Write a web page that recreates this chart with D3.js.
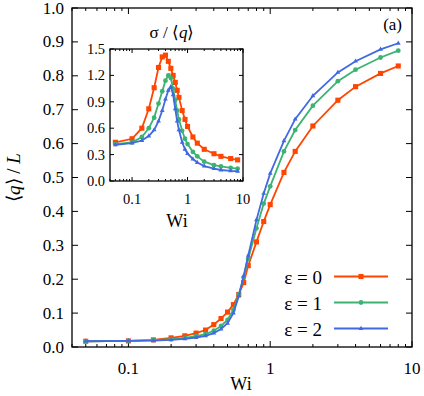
<!DOCTYPE html>
<html>
<head>
<meta charset="utf-8">
<script src="https://cdn.jsdelivr.net/npm/d3@7"></script>
<style>
  body { margin: 0; background: #fff; }
  svg text { font-family: "Liberation Serif", "Times New Roman", serif; fill: #000; }
</style>
</head>
<body>
<div id="chart"></div>
<script>
// Wi values shared by all curves
const wi = [0.05, 0.1, 0.15, 0.2, 0.25, 0.3, 0.35, 0.4, 0.45, 0.5, 0.55, 0.6, 0.65, 0.7, 0.8, 0.9, 1, 1.25, 1.5, 2, 3, 4, 6, 8];

// main panel: <q>/L
const q0 = [0.017, 0.018, 0.021, 0.027, 0.033, 0.041, 0.05, 0.066, 0.084, 0.103, 0.125, 0.155, 0.19, 0.24, 0.31, 0.37, 0.42, 0.515, 0.577, 0.652, 0.728, 0.768, 0.807, 0.829];
const q1 = [0.017, 0.018, 0.02, 0.023, 0.027, 0.032, 0.038, 0.048, 0.062, 0.08, 0.11, 0.155, 0.205, 0.26, 0.35, 0.423, 0.474, 0.577, 0.64, 0.712, 0.784, 0.818, 0.854, 0.874];
const q2 = [0.017, 0.018, 0.019, 0.021, 0.024, 0.028, 0.033, 0.041, 0.053, 0.07, 0.1, 0.15, 0.21, 0.27, 0.375, 0.453, 0.512, 0.608, 0.672, 0.741, 0.81, 0.843, 0.878, 0.896];

// inset: sigma/<q>
const s0 = [0.44, 0.48, 0.6, 0.82, 1.06, 1.29, 1.41, 1.43, 1.36, 1.28, 1.2, 1.12, 1.03, 0.95, 0.8, 0.7, 0.62, 0.5, 0.43, 0.36, 0.31, 0.28, 0.255, 0.24];
const s1 = [0.42, 0.44, 0.5, 0.6, 0.72, 0.88, 1.02, 1.14, 1.2, 1.17, 1.05, 0.92, 0.8, 0.7, 0.57, 0.48, 0.42, 0.33, 0.28, 0.22, 0.18, 0.165, 0.15, 0.14];
const s2 = [0.41, 0.43, 0.46, 0.51, 0.58, 0.68, 0.8, 0.93, 1.03, 1.07, 0.98, 0.82, 0.68, 0.58, 0.44, 0.36, 0.31, 0.25, 0.21, 0.17, 0.14, 0.125, 0.115, 0.11];

const legendLabels = ["ε = 0", "ε = 1", "ε = 2"];
const colors = ["#ff4500", "#3cb371", "#4169e1"];
const symbols = [d3.symbolSquare, d3.symbolCircle, d3.symbolTriangle];
const symSizes = [26, 18, 10];
const mainYTicks = d3.range(0, 1.01, 0.1);
const insetYTicks = [0, 0.3, 0.6, 0.9, 1.2, 1.5];

const W = 424, H = 396;
const svg = d3.select("#chart").append("svg").attr("width", W).attr("height", H);

// minor ticks for a log axis
function logTicks(lo, hi) {
  let t = [];
  for (let e = -2; e <= 1; e++) {
    for (let m = 1; m < 10; m++) {
      let v = m * Math.pow(10, e);
      if (v >= lo * 0.999 && v <= hi * 1.001) t.push(v);
    }
  }
  return t;
}

// o: fs font size, tl tick length, yOff/yDx label offsets, xOff baseline below axis
function panel(g, x, y, yTicks, o, series) {
  const [x0, x1] = x.range(), [y0, y1] = y.range();
  const minor = logTicks(x.domain()[0], x.domain()[1]);
  const major = [0.1, 1, 10];

  minor.forEach(v => {
    let len = major.includes(+v.toPrecision(3)) ? o.tl : o.tl * 0.5;
    g.append("line").attr("x1", x(v)).attr("x2", x(v)).attr("y1", y0).attr("y2", y0 - len).attr("stroke", "#000");
    g.append("line").attr("x1", x(v)).attr("x2", x(v)).attr("y1", y1).attr("y2", y1 + len).attr("stroke", "#000");
  });
  yTicks.forEach(v => {
    g.append("line").attr("x1", x0).attr("x2", x0 + o.tl).attr("y1", y(v)).attr("y2", y(v)).attr("stroke", "#000");
    g.append("line").attr("x1", x1).attr("x2", x1 - o.tl).attr("y1", y(v)).attr("y2", y(v)).attr("stroke", "#000");
    g.append("text").attr("x", x0 - o.yDx).attr("y", y(v) + o.yOff)
      .attr("text-anchor", "end").attr("font-size", o.fs).text(d3.format(".1f")(v));
  });
  major.forEach(v => {
    g.append("text").attr("x", x(v)).attr("y", y0 + o.xOff)
      .attr("text-anchor", "middle").attr("font-size", o.fs).text(v);
  });

  const line = d3.line().x((d, i) => x(wi[i])).y(d => y(d));
  series.forEach((s, k) => {
    g.append("path").datum(s).attr("d", line).attr("fill", "none")
      .attr("stroke", colors[k]).attr("stroke-width", 1.8);
    g.selectAll(null).data(s).join("path")
      .attr("transform", (d, i) => `translate(${x(wi[i])},${y(d)})`)
      .attr("d", d3.symbol().type(symbols[k]).size(symSizes[k]))
      .attr("fill", colors[k]);
  });

  g.append("rect").attr("x", x0).attr("y", y1).attr("width", x1 - x0).attr("height", y0 - y1)
    .attr("fill", "none").attr("stroke", "#000").attr("stroke-width", 1.3);
}

// main panel
const x = d3.scaleLog().domain([0.04, 10]).range([72, 412]);
const y = d3.scaleLinear().domain([0, 1]).range([347, 8]);
const main = svg.append("g");
panel(main, x, y, mainYTicks, { fs: 17, tl: 6, yOff: 5.5, yDx: 8, xOff: 27 }, [q0, q1, q2]);

main.append("text").attr("x", 241).attr("y", 390).attr("text-anchor", "middle")
  .attr("font-size", 18).text("Wi");
const yl = main.append("text").attr("transform", `translate(20,${y(0.5)}) rotate(-90)`)
  .attr("text-anchor", "middle").attr("font-size", 19);
yl.append("tspan").text("⟨");
yl.append("tspan").attr("font-style", "italic").text("q");
yl.append("tspan").text("⟩ / ");
yl.append("tspan").attr("font-style", "italic").text("L");
main.append("text").attr("x", 402).attr("y", 30).attr("text-anchor", "end")
  .attr("font-size", 17).text("(a)");

// legend
legendLabels.forEach((l, k) => {
  const ly = 276.5 + k * 26;
  main.append("text").attr("x", 322).attr("y", ly + 7.5).attr("text-anchor", "end")
    .attr("font-size", 19).text(l);
  main.append("line").attr("x1", 334).attr("x2", 388).attr("y1", ly).attr("y2", ly)
    .attr("stroke", colors[k]).attr("stroke-width", 1.8);
  main.append("path").attr("transform", `translate(361,${ly})`)
    .attr("d", d3.symbol().type(symbols[k]).size(symSizes[k]))
    .attr("fill", colors[k]);
});

// inset
const xi = d3.scaleLog().domain([0.04, 10]).range([110, 243]);
const yi = d3.scaleLinear().domain([0, 1.5]).range([181, 49]);
const inset = svg.append("g");
inset.append("rect").attr("x", 110).attr("y", 49).attr("width", 133).attr("height", 132).attr("fill", "#fff");
panel(inset, xi, yi, insetYTicks, { fs: 14.5, tl: 4, yOff: 5, yDx: 5, xOff: 23 }, [s0, s1, s2]);
inset.append("text").attr("x", 177).attr("y", 227).attr("text-anchor", "middle")
  .attr("font-size", 18).text("Wi");
const it = inset.append("text").attr("x", 172).attr("y", 38).attr("text-anchor", "middle").attr("font-size", 17);
it.append("tspan").text("σ / ⟨");
it.append("tspan").attr("font-style", "italic").text("q");
it.append("tspan").text("⟩");
</script>
</body>
</html>
